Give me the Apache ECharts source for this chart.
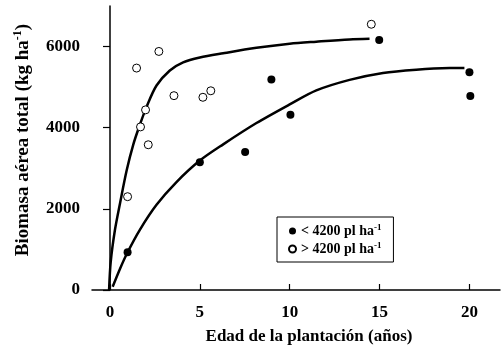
<!DOCTYPE html>
<html>
<head>
<meta charset="utf-8">
<script src="https://cdn.jsdelivr.net/npm/echarts@6/dist/echarts.min.js"></script>
<style>
  html, body { margin: 0; padding: 0; background: #fff; }
  #chart { width: 504px; height: 350px; }
</style>
</head>
<body>
<div id="chart"></div>
<script>
// puntos > 4200 pl/ha (círculos vacíos)
const highDensityPts = [
  [0.98, 2300], [1.48, 5470], [1.7, 4020], [1.98, 4440], [2.13, 3580],
  [2.72, 5880], [3.56, 4790], [5.17, 4750], [5.61, 4910], [14.54, 6550]
];
// puntos < 4200 pl/ha (círculos llenos)
const lowDensityPts = [
  [0.98, 930], [5.0, 3150], [7.52, 3400], [8.98, 5190], [10.04, 4320],
  [14.98, 6160], [20.0, 5370], [20.05, 4780]
];
// curvas ajustadas
const highDensityCurve = [
  [-0.05, 0], [0.04, 690], [0.28, 1490], [0.56, 2140], [0.93, 2950], [1.3, 3590],
  [1.67, 4080], [2.04, 4520], [2.59, 5040], [3.33, 5410], [4.07, 5610], [5.0, 5730],
  [6.3, 5835], [8.15, 5970], [10.0, 6070], [11.48, 6120], [13.33, 6175], [14.44, 6190]
];
const lowDensityCurve = [
  [0.15, 80], [0.56, 525], [0.98, 930], [1.67, 1490], [2.59, 2100], [3.7, 2660],
  [5.0, 3190], [6.3, 3590], [8.15, 4115], [10.0, 4575], [11.48, 4920], [13.33, 5180],
  [15.19, 5350], [17.04, 5430], [18.9, 5470], [19.72, 5472]
];
const xTicks = [0, 5, 10, 15, 20];
const yTicks = [0, 2000, 4000, 6000];

const font = "Liberation Serif";
const myChart = echarts.init(document.getElementById("chart"));

const option = {
  animation: false,
  backgroundColor: "#fff",
  grid: { left: 92, right: 4, top: 6, bottom: 55 },
  xAxis: {
    type: "value",
    min: -1,
    max: 21.7,
    name: "Edad de la plantación (años)",
    nameLocation: "middle",
    nameGap: 38,
    nameTextStyle: {
      color: "#000", fontFamily: font, fontWeight: "bold", fontSize: 17,
      padding: [0, 0, 0, 26]
    },
    axisLine: { lineStyle: { color: "#000", width: 1.5 } },
    axisTick: { inside: true, length: 6, customValues: xTicks, lineStyle: { color: "#000", width: 1.2 } },
    axisLabel: {
      customValues: xTicks, margin: 14,
      color: "#000", fontFamily: font, fontWeight: "bold", fontSize: 17
    },
    splitLine: { show: false }
  },
  yAxis: {
    type: "value",
    min: 0,
    max: 7000,
    name: "{a|Biomasa aérea total (kg ha}{s|-1}{a|)}",
    nameLocation: "middle",
    nameGap: 58,
    nameTextStyle: {
      padding: [0, 0, 0, 16],
      rich: {
        a: { color: "#000", fontFamily: font, fontWeight: "bold", fontSize: 19, lineHeight: 22 },
        s: { color: "#000", fontFamily: font, fontWeight: "bold", fontSize: 12, lineHeight: 12, verticalAlign: "top" }
      }
    },
    axisLine: { show: true, lineStyle: { color: "#000", width: 1.5 } },
    axisTick: { show: true, length: 7, customValues: yTicks, lineStyle: { color: "#000", width: 1.2 } },
    axisLabel: {
      customValues: yTicks, margin: 12,
      formatter: (v) => String(v),
      color: "#000", fontFamily: font, fontWeight: "bold", fontSize: 17
    },
    splitLine: { show: false }
  },
  legend: {
    left: 277,
    top: 217,
    orient: "vertical",
    data: ["< 4200 pl ha-1", "> 4200 pl ha-1"],
    borderColor: "#000",
    borderWidth: 1,
    borderRadius: 0,
    padding: [6, 12, 6, 11],
    itemGap: 3,
    itemWidth: 7,
    itemHeight: 7,
    formatter: (n) => "{a|" + n.replace("-1", "") + "}{s|-1}",
    textStyle: {
      rich: {
        a: { color: "#000", fontFamily: font, fontWeight: "bold", fontSize: 14, lineHeight: 16 },
        s: { color: "#000", fontFamily: font, fontWeight: "bold", fontSize: 9, lineHeight: 9, verticalAlign: "top" }
      }
    }
  },
  series: [
    {
      name: "curva alta",
      type: "line",
      data: highDensityCurve,
      smooth: 0.3,
      showSymbol: false,
      lineStyle: { color: "#000", width: 2.5 },
      z: 2
    },
    {
      name: "curva baja",
      type: "line",
      data: lowDensityCurve,
      smooth: 0.3,
      showSymbol: false,
      lineStyle: { color: "#000", width: 2.5 },
      z: 2
    },
    {
      name: "< 4200 pl ha-1",
      type: "scatter",
      data: lowDensityPts,
      symbol: "circle",
      symbolSize: 8,
      itemStyle: { color: "#000", opacity: 1 },
      z: 5
    },
    {
      name: "> 4200 pl ha-1",
      type: "scatter",
      data: highDensityPts,
      symbol: "circle",
      symbolSize: 8,
      itemStyle: { color: "#fff", borderColor: "#000", borderWidth: 1, opacity: 1 },
      z: 4
    }
  ]
};

option && myChart.setOption(option);
</script>
</body>
</html>
